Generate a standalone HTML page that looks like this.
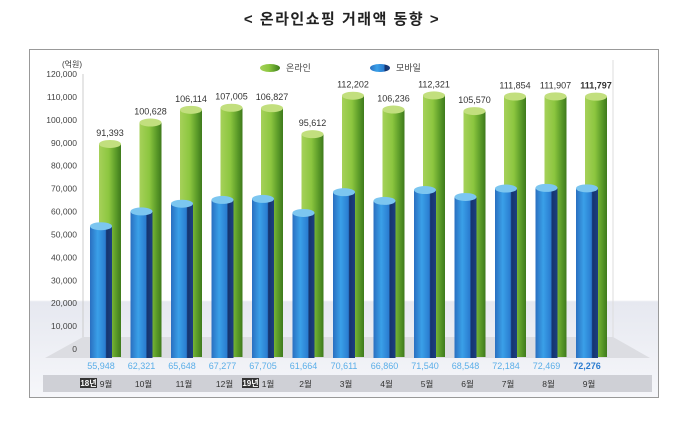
<!DOCTYPE html>
<html><head><meta charset="utf-8"><style>
body{margin:0;background:#fff;width:684px;height:416px;overflow:hidden;font-family:"Liberation Sans","Noto Sans CJK KR",sans-serif}
</style></head><body>
<svg width="684" height="416" viewBox="0 0 684 416">
<defs>
<linearGradient id="g" x1="0" x2="1"><stop offset="0" stop-color="#a6d15a"/><stop offset="0.45" stop-color="#8cc63f"/><stop offset="0.75" stop-color="#5e9e2a"/><stop offset="1" stop-color="#3e7a1c"/></linearGradient>
<linearGradient id="b" x1="0" x2="1"><stop offset="0" stop-color="#2a6fc0"/><stop offset="0.35" stop-color="#3aa0e8"/><stop offset="0.7" stop-color="#2a7cd0"/><stop offset="0.75" stop-color="#15346e"/><stop offset="1" stop-color="#1c3f80"/></linearGradient>
<linearGradient id="bg" x1="0" y1="0" x2="0" y2="1"><stop offset="0" stop-color="#fff"/><stop offset="0.72" stop-color="#fff"/><stop offset="0.725" stop-color="#e6e8f0"/><stop offset="1" stop-color="#f6f7fa"/></linearGradient>
</defs>
<text x="342" y="24" text-anchor="middle" font-size="15" font-weight="bold" letter-spacing="1.5" fill="#222" font-family="'Liberation Sans','Noto Sans CJK KR',sans-serif">&lt; 온라인쇼핑 거래액 동향 &gt;</text>
<rect x="29.5" y="49.5" width="629" height="348" fill="url(#bg)" stroke="#999"/>
<line x1="83" y1="74" x2="83" y2="349" stroke="#ccc"/>
<line x1="613" y1="60" x2="613" y2="340" stroke="#ddd"/>
<polygon points="83,337 613,337 650,358 45,358" fill="#dcdde2"/>
<rect x="43" y="375" width="609" height="17" fill="#cfd0d6"/>
<text x="62" y="67" font-size="8" fill="#333">(억원)</text>
<g>
<ellipse cx="270" cy="68" rx="10" ry="4" fill="url(#g)"/><text x="286" y="71" font-size="9" fill="#444">온라인</text>
<ellipse cx="380" cy="68" rx="10" ry="4" fill="url(#b)"/><text x="396" y="71" font-size="9" fill="#444">모바일</text>
</g>
<g id="yaxis"></g><g id="bars"></g><g id="labels"></g>
</svg>
<script>
const categories=["9월","10월","11월","12월","1월","2월","3월","4월","5월","6월","7월","8월","9월"];
const yearTags=["18년","","","","19년","","","","","","","",""];
const online=[91393,100628,106114,107005,106827,95612,112202,106236,112321,105570,111854,111907,111797];
const mobile=[55948,62321,65648,67277,67705,61664,70611,66860,71540,68548,72184,72469,72276];
const yTicks=[0,10000,20000,30000,40000,50000,60000,70000,80000,90000,100000,110000,120000];
const NS="http://www.w3.org/2000/svg";
function yAxis(v){return 349-v*275/120000;}
function yBar(v){return 356-v*2.32/1000;}
function xCat(i){return 101+i*40.5;}
function fmt(v){return v.toLocaleString("en-US");}
function mk(t,a,p,txt){const e=document.createElementNS(NS,t);for(const k in a)e.setAttribute(k,a[k]);if(txt!==undefined)e.textContent=txt;p.appendChild(e);return e;}
const ya=document.getElementById("yaxis"),bg=document.getElementById("bars"),lb=document.getElementById("labels");
yTicks.forEach(v=>{const t=mk("text",{x:77,y:yAxis(v)+3,"text-anchor":"end","font-size":"8.5",fill:"#444"},ya,fmt(v));

});
function cyl(cx,top,bottom,fill,cap,name){const w=11;const g=mk("g",{},bg);


mk("rect",{x:cx-w,y:top,width:2*w,height:bottom-top,fill:fill},g);
mk("ellipse",{cx:cx,cy:top,rx:w,ry:4,fill:cap},g);}
categories.forEach((c,i)=>{const x=xCat(i);
cyl(x+9,yBar(online[i]),357,"url(#g)","#c2df7e","online-bar");
cyl(x,yBar(mobile[i]),358,"url(#b)","#7cc6f0","mobile-bar");
const last=i===categories.length-1;
const t1=mk("text",{x:x+9,y:yBar(online[i])-8,"text-anchor":"middle","font-size":"9","font-weight":last?"bold":"normal",fill:"#333"},lb,fmt(online[i]));


const t2=mk("text",{x:x,y:369,"text-anchor":"middle","font-size":"9","font-weight":last?"bold":"normal",fill:last?"#2a7cd0":"#5aaee8"},lb,fmt(mobile[i]));


if(yearTags[i]){const r=mk("rect",{x:x-21,y:378,width:17,height:10,fill:"#333"},lb);


const yt=mk("text",{x:x-12.5,y:386,"text-anchor":"middle","font-size":"8","font-weight":"bold",fill:"#fff"},lb,yearTags[i]);

}
const ct=mk("text",{x:yearTags[i]?x+5:x+2,y:387,"text-anchor":"middle","font-size":"8.5",fill:"#333"},lb,c);

});
</script>
</body></html>
